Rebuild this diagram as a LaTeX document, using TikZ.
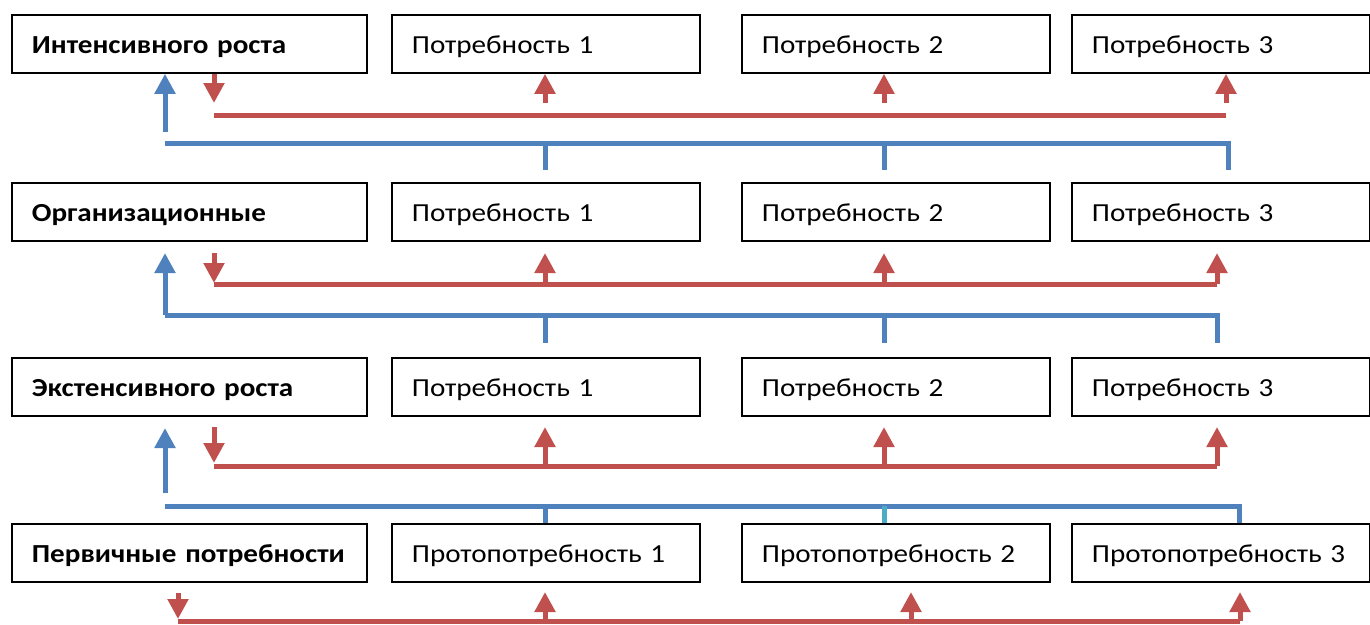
\documentclass[tikz,border=0pt]{standalone}
\usepackage{fontspec}
\setmainfont{Carlito}[FakeStretch=1.12,WordSpace=0.85]
\usetikzlibrary{arrows.meta}
\definecolor{ored}{HTML}{C0504D}
\definecolor{oblue}{HTML}{4F81BD}
\definecolor{oteal}{HTML}{4BACC6}
\begin{document}
\begin{tikzpicture}[x=1pt,y=-1pt,
  box/.style={draw=black,line width=1.8pt,anchor=north west,minimum height=58pt,
    inner xsep=20pt,inner ysep=0pt,text height=20pt,text depth=0pt,
    align=left,font=\fontsize{26}{30}\selectfont},
  colA/.style={box,text width=315pt,font=\fontsize{26}{30}\selectfont\bfseries},
  colB/.style={box,text width=268pt},
  colD/.style={box,text width=258pt},
  wire/.style={line width=5pt},
  bluewire/.style={wire,draw=oblue},
  redwire/.style={wire,draw=ored},
  tealwire/.style={wire,draw=oteal},
  tip/.style={-{Triangle[width=20pt,length=20pt]}},
]
\useasboundingbox (0,0) rectangle (1370,624);

% level boxes
\node[colA] (p1) at (11,14)   {Интенсивного роста};
\node[colB] (p2) at (391,14)  {Потребность 1};
\node[colB] (p3) at (741,14)  {Потребность 2};
\node[colD] (p4) at (1071,14) {Потребность 3};

\node[colA] (o1) at (11,182)   {Организационные};
\node[colB] (o2) at (391,182)  {Потребность 1};
\node[colB] (o3) at (741,182)  {Потребность 2};
\node[colD] (o4) at (1071,182) {Потребность 3};

\node[colA] (e1) at (11,357)   {Экстенсивного роста};
\node[colB] (e2) at (391,357)  {Потребность 1};
\node[colB] (e3) at (741,357)  {Потребность 2};
\node[colD] (e4) at (1071,357) {Потребность 3};

\node[colA] (f1) at (11,523)   {Первичные потребности};
\node[colB] (f2) at (391,523)  {Протопотребность 1};
\node[colB] (f3) at (741,523)  {Протопотребность 2};
\node[colD] (f4) at (1071,523) {Протопотребность 3};

% links between the upper two levels
\draw[bluewire,tip] (165,132) -- (165,0 |- p1.south);
\draw[bluewire] (165,143) -- (1228,143) -- (1228,170);
\foreach \x in {545,884} \draw[bluewire] (\x,143) -- (\x,170);
\draw[redwire,tip] (214,0 |- p1.south) -- (214,103);
\draw[redwire] (214,115) -- (1226,115);
\foreach \x in {545,884,1226} \draw[redwire,tip] (\x,103) -- (\x,0 |- p2.south);

% links between the second and third levels
\draw[bluewire,tip] (165,315) -- (165,253);
\draw[bluewire] (165,315) -- (1217,315) -- (1217,343);
\foreach \x in {545,884} \draw[bluewire] (\x,315) -- (\x,343);
\draw[redwire,tip] (214,253) -- (214,283);
\draw[redwire] (214,284) -- (1217,284);
\foreach \x in {545,884,1217} \draw[redwire,tip] (\x,284) -- (\x,253);

% links between the third and fourth levels
\draw[bluewire,tip] (165,493) -- (165,428);
\draw[bluewire] (165,506) -- (1239,506) -- (1239,0 |- f4.north);
\draw[bluewire] (545,506) -- (545,0 |- f2.north);
\draw[tealwire] (884,506) -- (884,0 |- f3.north);
\draw[redwire,tip] (214,427) -- (214,463);
\draw[redwire] (214,466) -- (1217,466);
\foreach \x in {545,884,1217} \draw[redwire,tip] (\x,466) -- (\x,427);

% links below the primary needs
\draw[redwire,tip] (178,593) -- (178,619);
\draw[redwire] (178,621) -- (1240,621);
\foreach \x in {545,911,1240} \draw[redwire,tip] (\x,621) -- (\x,592);
\end{tikzpicture}
\end{document}
